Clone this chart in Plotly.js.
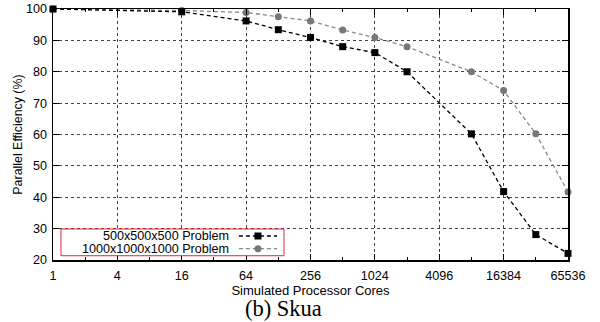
<!DOCTYPE html>
<html>
<head>
<meta charset="utf-8">
<script src="https://cdn.plot.ly/plotly-3.0.1.min.js"></script>
<style>html,body{margin:0;padding:0;background:#fff;}#chart{width:600px;height:322px;}</style>
</head>
<body>
<div id="chart"></div>
<script>
const cores = [1, 16, 64, 128, 256, 512, 1024, 2048, 8192, 16384, 32768, 65536];
const eff500 = [100, 99.1, 96.2, 93.4, 90.9, 88.0, 86.1, 80.0, 60.2, 41.8, 28.1, 22.1];
const eff1000 = [100, 99.5, 98.9, 97.5, 96.2, 93.3, 90.9, 88.0, 80.0, 74.0, 60.2, 41.7];
const seriesNames = ['500x500x500 Problem', '1000x1000x1000 Problem'];
const xTickVals = [1, 4, 16, 64, 256, 1024, 4096, 16384, 65536];
const xTickText = ['1', '4', '16', '64', '256', '1024', '4096', '16384', '65536'];
const xMinorVals = [2, 8, 32, 128, 512, 2048, 8192, 32768];
const yTickVals = [20, 30, 40, 50, 60, 70, 80, 90, 100];

const FAM = 'Liberation Sans, Arial, sans-serif';
const font = {family: FAM, size: 12.6, color: '#000'};

const traces = [
  {x: cores, y: eff1000, name: seriesNames[1], mode: 'lines+markers', cliponaxis: false,
   line: {color: '#888', width: 1.3, dash: '4px,3px'},
   marker: {symbol: 'circle', size: 7, color: '#777'}},
  {x: cores, y: eff500, name: seriesNames[0], mode: 'lines+markers', cliponaxis: false,
   line: {color: '#000', width: 1.3, dash: '4px,3px'},
   marker: {symbol: 'square', size: 7, color: '#000'}}
];

// custom legend (text on left, sample on right, red frame)
const L = {x0: 0.0155, x1: 0.4485, y0: 0.017, y1: 0.1235, tx: 0.3456, s0: 0.361, s1: 0.435, m: 0.398, r1: 0.0956, r2: 0.045};
const mx = 3.5/515, my = 3.5/251;
const shapes = [
  {type: 'rect', xref: 'paper', yref: 'paper', x0: L.x0, x1: L.x1, y0: L.y0, y1: L.y1,
   line: {color: '#e8262b', width: 1}, fillcolor: '#fff', layer: 'above'},
  {type: 'line', xref: 'paper', yref: 'paper', x0: L.s0, x1: L.s1, y0: L.r1, y1: L.r1,
   line: {color: '#000', width: 1.3, dash: '4px,3px'}, layer: 'above'},
  {type: 'rect', xref: 'paper', yref: 'paper', x0: L.m - mx, x1: L.m + mx, y0: L.r1 - my, y1: L.r1 + my,
   line: {width: 0}, fillcolor: '#000', layer: 'above'},
  {type: 'line', xref: 'paper', yref: 'paper', x0: L.s0, x1: L.s1, y0: L.r2, y1: L.r2,
   line: {color: '#888', width: 1.3, dash: '4px,3px'}, layer: 'above'},
  {type: 'circle', xref: 'paper', yref: 'paper', x0: L.m - mx, x1: L.m + mx, y0: L.r2 - my, y1: L.r2 + my,
   line: {width: 0}, fillcolor: '#777', layer: 'above'}
];
const annotations = [
  {xref: 'paper', yref: 'paper', x: L.tx, y: L.r1, text: seriesNames[0], showarrow: false, xanchor: 'right', yanchor: 'middle', font: font},
  {xref: 'paper', yref: 'paper', x: L.tx, y: L.r2, text: seriesNames[1], showarrow: false, xanchor: 'right', yanchor: 'middle', font: font},
  {xref: 'paper', yref: 'paper', x: 0.4485, y: -0.194, text: '(b) Skua', showarrow: false, xanchor: 'center', yanchor: 'middle',
   font: {family: 'Liberation Serif, Times New Roman, serif', size: 22.5, color: '#000'}}
];

const layout = {
  width: 600, height: 322,
  margin: {l: 53, r: 32, t: 9, b: 62},
  paper_bgcolor: '#fff', plot_bgcolor: '#fff',
  showlegend: false,
  font: font,
  xaxis: {
    type: 'log', range: [0, Math.log10(65536)],
    tickmode: 'array', tickvals: xTickVals, ticktext: xTickText,
    ticks: 'inside', ticklen: 6, tickcolor: '#000', tickwidth: 1,
    minor: {tickmode: 'array', tickvals: xMinorVals, ticks: 'inside', ticklen: 3, tickcolor: '#000', showgrid: false},
    showline: true, linecolor: '#000', linewidth: 1.5, mirror: 'ticks',
    showgrid: true, gridcolor: '#444', griddash: 'dot', gridwidth: 1,
    zeroline: false, tickfont: font, ticklabelstandoff: 3,
    title: {text: 'Simulated Processor Cores', font: {family: FAM, size: 13, color: '#000'}, standoff: 0}
  },
  yaxis: {
    range: [20, 100],
    tickmode: 'array', tickvals: yTickVals,
    ticks: 'inside', ticklen: 6, tickcolor: '#000', tickwidth: 1,
    showline: true, linecolor: '#000', linewidth: 1.5, mirror: 'ticks',
    showgrid: true, gridcolor: '#444', griddash: 'dot', gridwidth: 1,
    zeroline: false, tickfont: font, ticklabelstandoff: 2,
    title: {text: 'Parallel Efficiency (%)', font: {family: FAM, size: 12.4, color: '#000'}, standoff: 0}
  },
  shapes: shapes,
  annotations: annotations
};

Plotly.newPlot('chart', traces, layout, {displayModeBar: false, staticPlot: true});
</script>
</body>
</html>
